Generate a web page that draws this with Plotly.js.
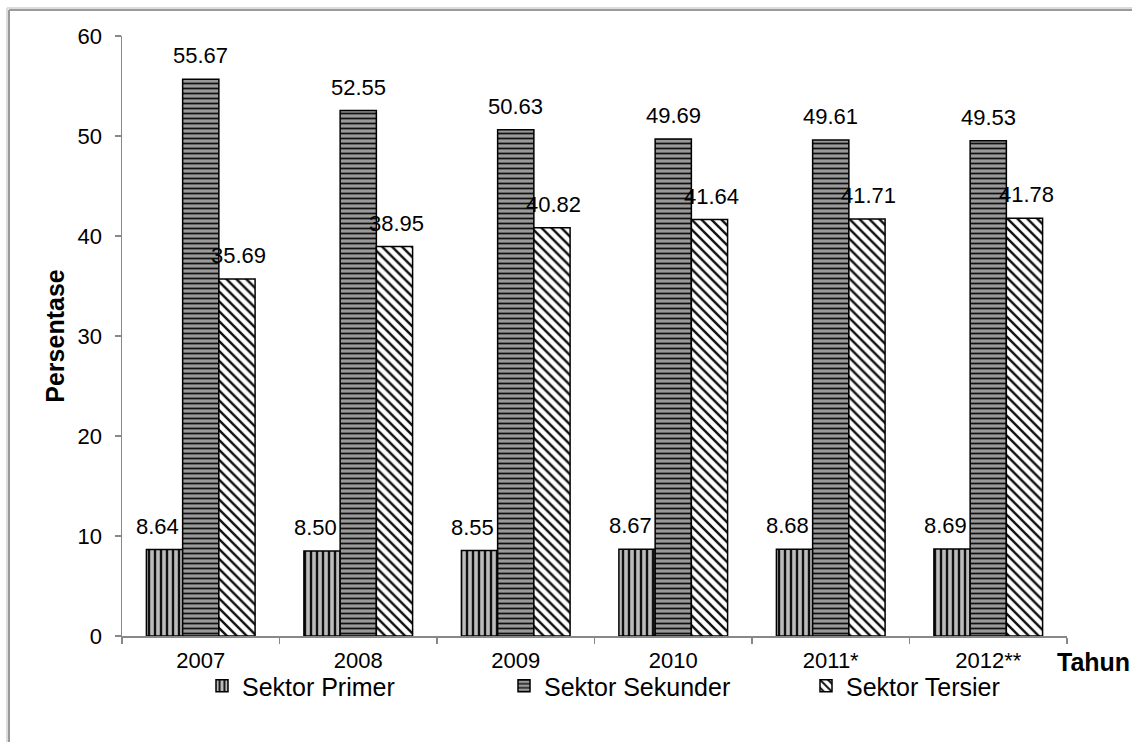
<!DOCTYPE html>
<html>
<head>
<meta charset="utf-8">
<script src="https://cdn.plot.ly/plotly-3.0.1.min.js"></script>
<style>html,body{margin:0;padding:0;background:#fff;}#chart{width:1132px;height:742px;}</style>
</head>
<body>
<div id="chart"></div>
<script>
var years = ["2007", "2008", "2009", "2010", "2011*", "2012**"];
var primer = [8.64, 8.50, 8.55, 8.67, 8.68, 8.69];
var sekunder = [55.67, 52.55, 50.63, 49.69, 49.61, 49.53];
var tersier = [35.69, 38.95, 40.82, 41.64, 41.71, 41.78];
var seriesNames = ["Sektor Primer", "Sektor Sekunder", "Sektor Tersier"];

var W = 1132, H = 742;
var L = 122, R = 1067, T = 36, B = 636;
function px(x){ return (x - L) / (R - L); }
function py(y){ return (B - y) / (B - T); }

var font = "Arial, 'Liberation Sans', sans-serif";
function bar(name, vals, shape, bg, fg, size, sol){
  return {
    type: "bar", name: name, x: years, y: vals,
    textposition: "none",
    marker: {
      color: bg,
      line: {color: "#000", width: 1.5},
      pattern: {shape: shape, bgcolor: bg, fgcolor: fg, size: size, solidity: sol}
    },
    hoverinfo: "x+y+name"
  };
}

var allSeries = [primer, sekunder, tersier];
var data = [
  bar(seriesNames[0], primer, "|", "#bcbcbc", "#111", 6, 0.4),
  bar(seriesNames[1], sekunder, "-", "#9a9a9a", "#111", 5, 0.35),
  bar(seriesNames[2], tersier, "\\", "#ffffff", "#111", 7, 0.35)
];

// value labels placed through the axes (category index + value), shifted to each bar of the group
var labelShift = [-43, 0, 38];
var annotations = [];
allSeries.forEach(function(vals, i){
  vals.forEach(function(v, j){
    annotations.push({
      x: j, y: v, xref: "x", yref: "y", text: v.toFixed(2),
      showarrow: false, xanchor: "center", yanchor: "bottom",
      xshift: labelShift[i], yshift: 9,
      font: {family: font, size: 22, color: "#000"}
    });
  });
});
annotations.push({text: "<b>Tahun</b>", xref: "paper", yref: "paper", x: px(1093), y: py(662),
  xanchor: "center", yanchor: "middle", showarrow: false,
  font: {family: font, size: 25, color: "#000"}});

var layout = {
  width: W, height: H,
  margin: {l: L, r: W - R, t: T, b: H - B},
  paper_bgcolor: "#fff", plot_bgcolor: "#fff",
  font: {family: font, size: 22, color: "#000"},
  barmode: "group", bargap: 0.31, bargroupgap: 0,
  showlegend: true,
  legend: {
    orientation: "h", xref: "container", yref: "container",
    x: 202 / W, y: 1 - 686 / H, xanchor: "left", yanchor: "middle",
    font: {family: font, size: 25, color: "#000"},
    entrywidth: 257, entrywidthmode: "pixels", bgcolor: "rgba(0,0,0,0)",
    itemwidth: 30, tracegroupgap: 0
  },
  xaxis: {
    type: "category", categoryorder: "array", categoryarray: years,
    range: [-0.5, years.length - 0.5], autorange: false,
    showline: true, linecolor: "#888", linewidth: 1.5,
    ticks: "outside", tickson: "boundaries", ticklen: 6, tickcolor: "#888", tickwidth: 1.5,
    showgrid: false, zeroline: false, ticklabelstandoff: 4, tickangle: 0,
    tickfont: {family: font, size: 22, color: "#000"}
  },
  yaxis: {
    range: [0, 60], dtick: 10, showline: true, linecolor: "#888", linewidth: 1.5,
    ticks: "outside", ticklen: 6, tickcolor: "#888", tickwidth: 1.5,
    showgrid: false, zeroline: false, ticklabelstandoff: 8,
    tickfont: {family: font, size: 22, color: "#000"},
    title: {text: "<b>Persentase</b>", font: {family: font, size: 25, color: "#000"}, standoff: 6}
  },
  annotations: annotations,
  shapes: [
    {type: "line", xref: "paper", yref: "paper", x0: px(9), x1: px(1132), y0: py(10), y1: py(10),
     line: {color: "#9a9a9a", width: 2}},
    {type: "line", xref: "paper", yref: "paper", x0: px(9), x1: px(9), y0: py(10), y1: py(742),
     line: {color: "#9a9a9a", width: 2}},
    {type: "line", xref: "paper", yref: "paper", x0: px(7), x1: px(1132), y0: py(8), y1: py(8),
     line: {color: "#dcdcdc", width: 2}},
    {type: "line", xref: "paper", yref: "paper", x0: px(7), x1: px(7), y0: py(8), y1: py(742),
     line: {color: "#dcdcdc", width: 2}}
  ]
};

Plotly.newPlot("chart", data, layout, {displayModeBar: false, staticPlot: true});
</script>
</body>
</html>
